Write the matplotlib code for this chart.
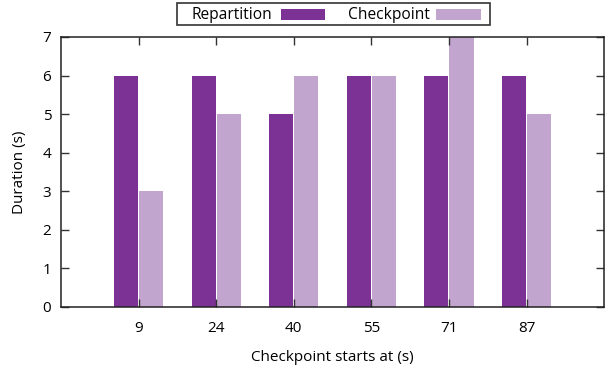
import matplotlib
matplotlib.use("Agg")
import matplotlib.pyplot as plt
from matplotlib.patches import Rectangle
import numpy as np

plt.rcParams['font.family'] = ['Open Sans', 'DejaVu Sans']

categories = ["9", "24", "40", "55", "71", "87"]
repartition = [6, 6, 5, 6, 6, 6]
checkpoint = [3, 5, 6, 6, 7, 5]
series_names = ["Repartition", "Checkpoint"]

dark = "#7b3294"
light = "#c2a5cf"

fig = plt.figure(figsize=(6.13, 3.73), dpi=100)
ax = fig.add_axes([0.0995, 0.177, 0.886, 0.724])

x = np.arange(len(categories))
w = 0.31
ax.bar(x - w / 2 - 0.007, repartition, width=w, color=dark, linewidth=0)
ax.bar(x + w / 2 + 0.007, checkpoint, width=w, color=light, linewidth=0)

ax.set_xlim(-1, 6)
ax.set_ylim(0, 7)
ax.set_xticks(x)
ax.set_xticklabels(categories)
ax.set_yticks(range(0, 8))
ax.tick_params(axis="both", direction="in", length=6, width=1, top=True,
               right=True, labelsize=11, color="#333333")
ax.tick_params(axis="x", pad=10)
ax.tick_params(axis="y", pad=7)
for s in ax.spines.values():
    s.set_linewidth(1.1)
    s.set_color("#222222")

ax.set_xlabel("Checkpoint starts at (s)", fontsize=11, labelpad=10)
ax.set_ylabel("Duration (s)", fontsize=11, labelpad=11)

# key box drawn across the top of the figure
fig.patches.append(Rectangle((0.2887, 0.933), 0.5106, 0.059, transform=fig.transFigure,
                             facecolor="white", edgecolor="#333333", linewidth=1.2))
fig.text(0.3132, 0.960, series_names[0], fontsize=11.2, va="center", ha="left")
fig.patches.append(Rectangle((0.4584, 0.9464), 0.0718, 0.0295, transform=fig.transFigure,
                             facecolor=dark, edgecolor="none"))
fig.text(0.5677, 0.960, series_names[1], fontsize=11.2, va="center", ha="left")
fig.patches.append(Rectangle((0.7113, 0.9464), 0.0734, 0.0295, transform=fig.transFigure,
                             facecolor=light, edgecolor="none"))

fig.savefig("out.png", dpi=100)
